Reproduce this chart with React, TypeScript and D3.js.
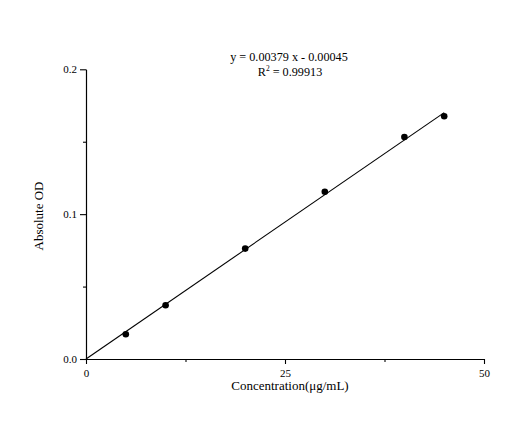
import * as d3 from "d3";
import {useEffect, useRef} from "react";

// concentration (µg/mL) and measured OD
const concentrations = [5, 10, 20, 30, 40, 45];
const absoluteOD = [0.0171, 0.0371, 0.0762, 0.1155, 0.1533, 0.1676];

const fitSlope = 0.00379;
const fitIntercept = -0.00045;
const fitRange = [0, 45];

const xTicks = [0, 25, 50];
const xMinorTicks = [12.5, 37.5];
const yTicks = [0, 0.1, 0.2];
const yMinorTicks = [0.05, 0.15];

const baseWidth = 520;
const baseHeight = 423;
const font = "'Liberation Serif', 'Times New Roman', serif";

export default function App() {
    const chartRef = useRef<SVGSVGElement>(null);

    useEffect(() => {
        if (!chartRef.current) return;
        const svg = d3.select(chartRef.current);
        svg.selectAll("*").remove();

        const xScale = d3.scaleLinear().domain([0, 50]).range([86, 484]);
        const yScale = d3.scaleLinear().domain([0, 0.2]).range([359, 69.3]);

        // minor ticks first, no labels
        svg.append("g")
            .attr("transform", `translate(0,${yScale(0)})`)
            .call(d3.axisBottom(xScale).tickValues(xMinorTicks).tickSize(3).tickFormat(() => "").tickSizeOuter(0));
        svg.append("g")
            .attr("transform", `translate(${xScale(0)},0)`)
            .call(d3.axisLeft(yScale).tickValues(yMinorTicks).tickSize(3).tickFormat(() => "").tickSizeOuter(0));

        const xAxis = svg.append("g")
            .attr("transform", `translate(0,${yScale(0)})`)
            .call(d3.axisBottom(xScale).tickValues(xTicks).tickSize(5).tickPadding(5).tickSizeOuter(0)
                .tickFormat(d => d3.format("d")(d as number)));

        const yAxis = svg.append("g")
            .attr("transform", `translate(${xScale(0)},0)`)
            .call(d3.axisLeft(yScale).tickValues(yTicks).tickSize(6).tickPadding(3).tickSizeOuter(0)
                .tickFormat(d => d3.format(".1f")(d as number)));

        svg.selectAll(".domain, .tick line").attr("stroke", "#000").attr("stroke-width", 1.1);
        [xAxis, yAxis].forEach(a => a.selectAll("text")
            .attr("font-family", font)
            .attr("font-size", 11)
            .attr("fill", "#000"));

        // fitted line
        const line = d3.line<number>()
            .x(d => xScale(d))
            .y(d => yScale(Math.max(0, fitSlope * d + fitIntercept)));
        svg.append("path")
            .datum(fitRange)
            .attr("d", line)
            .attr("fill", "none")
            .attr("stroke", "#000")
            .attr("stroke-width", 1.1);

        svg.selectAll(".pt")
            .data(concentrations)
            .join("circle")
            .attr("class", "pt")
            .attr("cx", d => xScale(d))
            .attr("cy", (_, i) => yScale(absoluteOD[i]))
            .attr("r", 3.3)
            .attr("fill", "#000");

        svg.append("text")
            .attr("x", 290)
            .attr("y", yScale(0) + 31)
            .attr("text-anchor", "middle")
            .attr("font-family", font)
            .attr("font-size", 13)
            .text("Concentration(μg/mL)");

        svg.append("text")
            .attr("transform", `translate(43,216) rotate(-90)`)
            .attr("text-anchor", "middle")
            .attr("font-family", font)
            .attr("font-size", 13)
            .text("Absolute OD");

        svg.append("text")
            .attr("x", 289)
            .attr("y", 61)
            .attr("text-anchor", "middle")
            .attr("font-family", font)
            .attr("font-size", 12.2)
            .text("y = 0.00379 x - 0.00045");

        const r2 = svg.append("text")
            .attr("x", 290)
            .attr("y", 76)
            .attr("text-anchor", "middle")
            .attr("font-family", font)
            .attr("font-size", 12.2);
        r2.append("tspan").text("R");
        r2.append("tspan").attr("dy", -5).attr("font-size", 7.5).text("2");
        r2.append("tspan").attr("dy", 5).text(" = 0.99913");
    }, []);

    return (
        <svg ref={chartRef} width={baseWidth} height={baseHeight}
             style={{position: "absolute", left: 0, top: 0, background: "#fff"}}/>
    );
}
